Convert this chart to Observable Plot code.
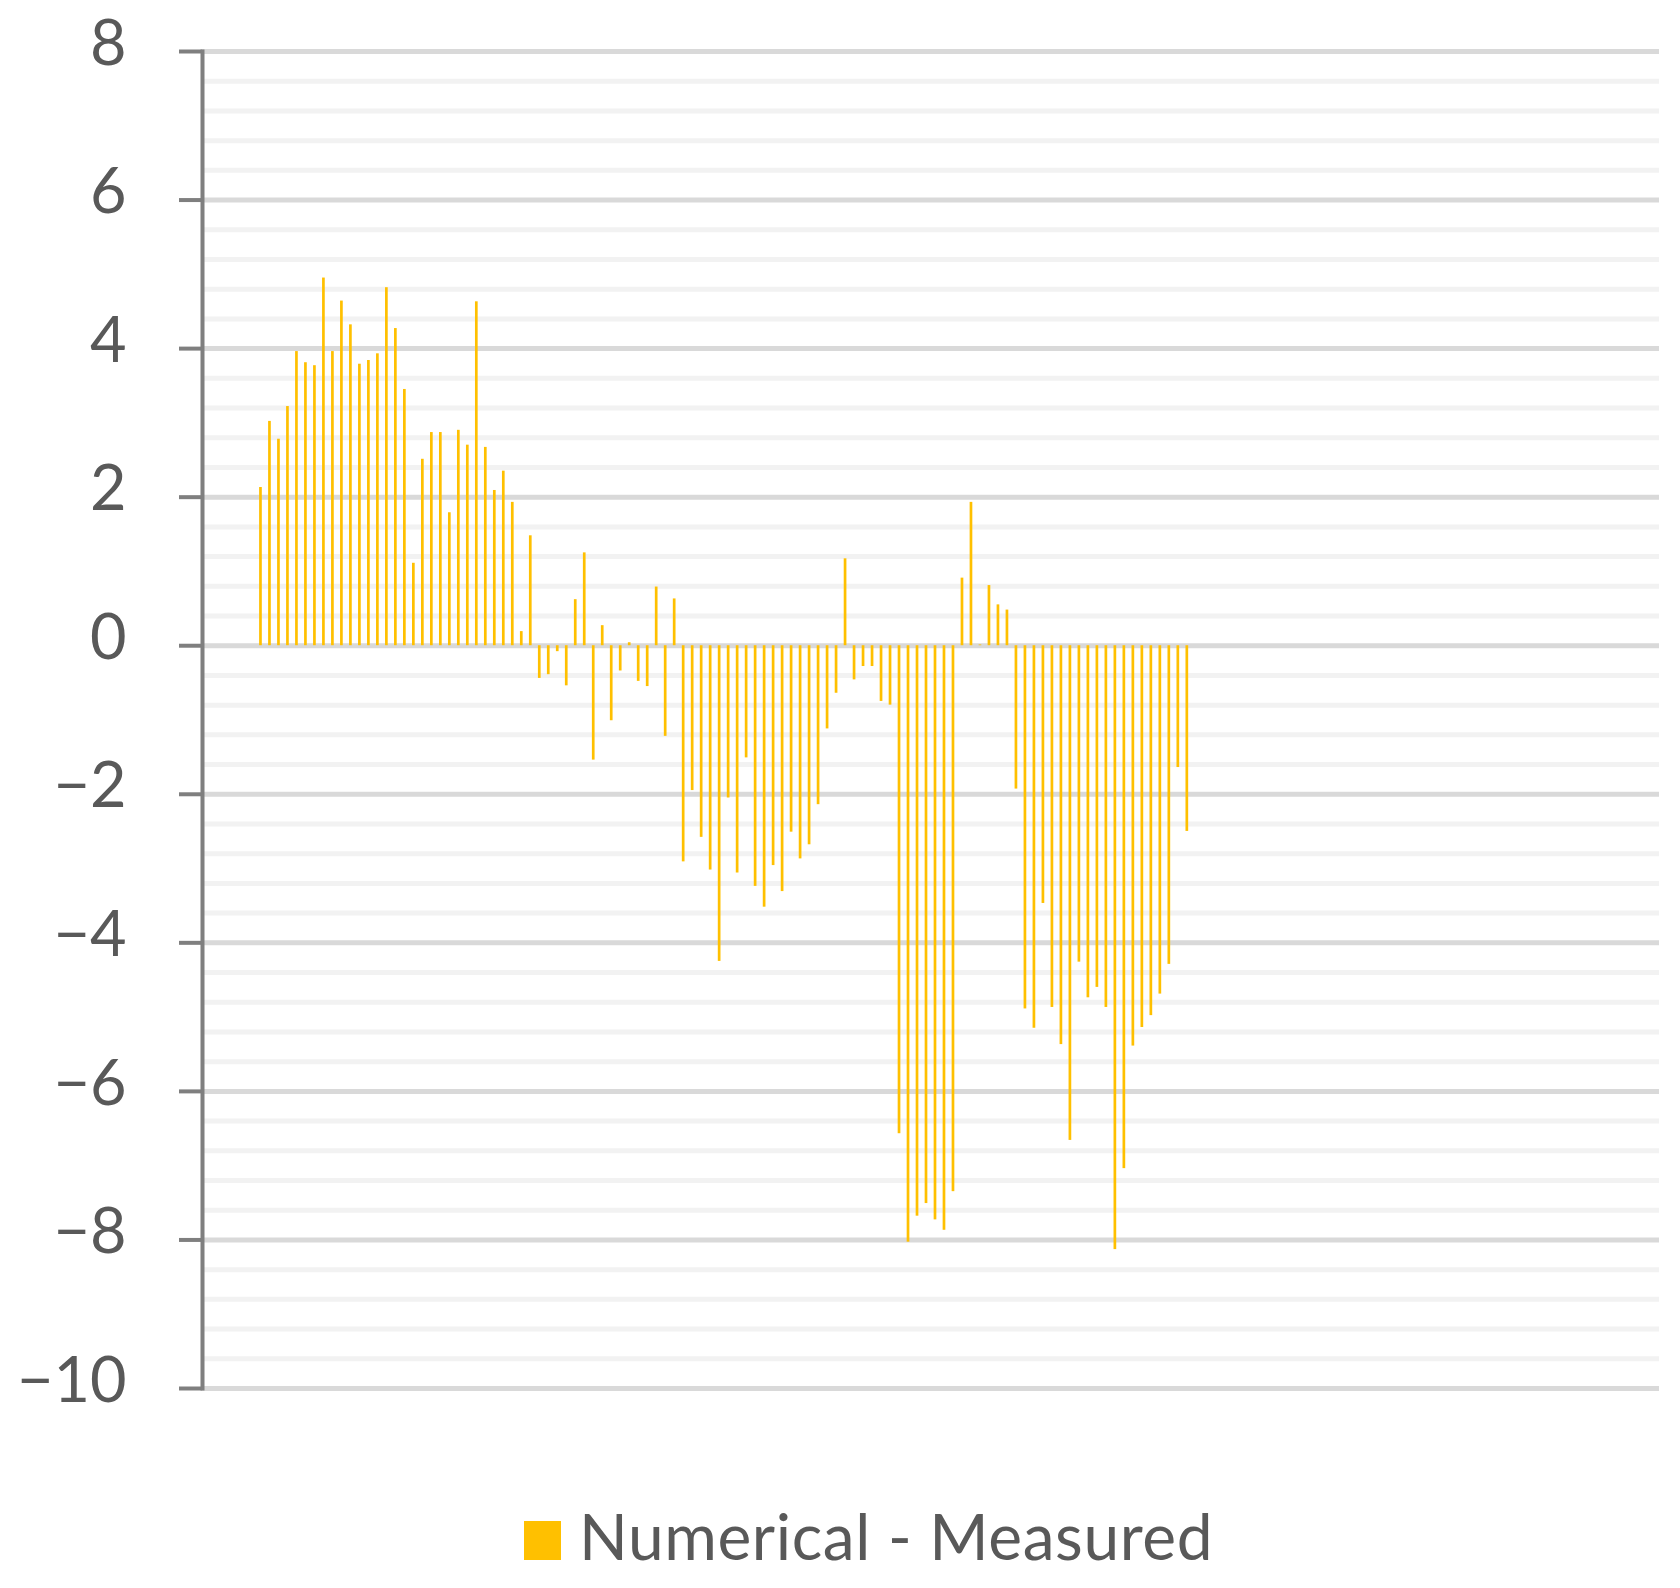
<!DOCTYPE html>
<html>
<head>
<meta charset="utf-8">
<script src="https://cdn.jsdelivr.net/npm/d3@7"></script>
<script src="https://cdn.jsdelivr.net/npm/@observablehq/plot@0.6"></script>
<style>
  html, body { margin: 0; padding: 0; background: #ffffff; }
  body { width: 1680px; height: 1588px; position: relative; font-family: Lato, "Open Sans", sans-serif; }
  #legend { position: absolute; left: 524px; top: 1500px; height: 80px; display: flex; align-items: center; gap: 18px; }
  #legend .sw { width: 37px; height: 39px; background: #FFC000; }
  #legend .lb { font-size: 64px; letter-spacing: 0.6px; color: #595959; line-height: 80px; position: relative; top: -4px; }
</style>
</head>
<body>
<div id="chart"></div>
<div id="legend"><div class="sw"></div><div class="lb"></div></div>
<script>
// ---- data ----
const slotCount = 162;          // number of category slots on the x axis
const firstFilledSlot = 7;      // category number of the first value
const seriesName = "Numerical - Measured";
const seriesValues = [
  2.13, 3.02, 2.78, 3.22, 3.96, 3.81, 3.77, 4.95, 3.96, 4.64,
  4.32, 3.79, 3.84, 3.93, 4.82, 4.27, 3.45, 1.11, 2.51, 2.87,
  2.87, 1.79, 2.90, 2.70, 4.63, 2.67, 2.09, 2.35, 1.93, 0.19,
  1.48, -0.44, -0.39, -0.08, -0.54, 0.62, 1.25, -1.54, 0.27, -1.01,
  -0.34, 0.04, -0.48, -0.55, 0.79, -1.22, 0.63, -2.91, -1.95, -2.58,
  -3.02, -4.25, -2.05, -3.06, -1.51, -3.24, -3.52, -2.96, -3.31, -2.51,
  -2.87, -2.68, -2.14, -1.12, -0.64, 1.17, -0.46, -0.28, -0.28, -0.75,
  -0.80, -6.57, -8.03, -7.68, -7.51, -7.73, -7.87, -7.35, 0.91, 1.93,
  0.01, 0.81, 0.55, 0.48, -1.93, -4.89, -5.15, -3.47, -4.87, -5.37,
  -6.66, -4.26, -4.74, -4.60, -4.87, -8.13, -7.04, -5.39, -5.14, -4.98,
  -4.69, -4.29, -1.64, -2.50
];
const yTickValues = [-10, -8, -6, -4, -2, 0, 2, 4, 6, 8];
const yMinorValues = d3.range(-50, 41, 2).map(d => d / 5).filter(d => Math.abs(d % 2) > 1e-9);

// ---- build ----
const categories = d3.range(1, slotCount + 1);
const data = seriesValues.map((v, i) => ({ cat: firstFilledSlot + i, value: v }));

const plot = Plot.plot({
  width: 1680,
  height: 1460,
  marginLeft: 202,
  marginRight: 21,
  marginTop: 51,
  marginBottom: 72,
  style: { background: "#ffffff", fontFamily: "Lato, 'Open Sans', sans-serif" },
  x: { type: "band", domain: categories, paddingInner: 0.7, paddingOuter: 0.35, axis: null },
  y: { domain: [-10, 8], axis: null, label: null },
  marks: [
    Plot.ruleY(yMinorValues, { stroke: "#f2f2f2", strokeWidth: 5 }),
    Plot.ruleY(yTickValues, { stroke: "#d9d9d9", strokeWidth: 5 }),
    Plot.barY(data, { x: "cat", y: "value", fill: "#FFC000" }),
    // tick marks
    Plot.axisY({
      ticks: yTickValues,
      tickSize: 23,
      stroke: "#7f7f7f",
      strokeWidth: 4,
      fill: "none",
      label: null
    }),
    // tick labels
    Plot.axisY({
      ticks: yTickValues,
      tickSize: 0,
      tickPadding: 76,
      fill: "#595959",
      fontSize: 63,
      dy: -7,
      label: null
    }),
    Plot.frame({ anchor: "left", stroke: "#7f7f7f", strokeWidth: 4 })
  ]
});
document.getElementById("chart").appendChild(plot);
document.querySelector("#legend .lb").textContent = seriesName;
</script>
</body>
</html>
